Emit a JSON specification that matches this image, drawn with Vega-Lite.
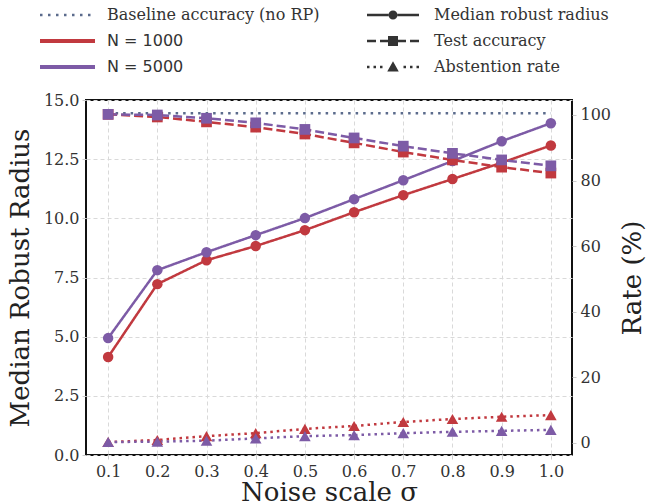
{
  "$schema": "https://vega.github.io/schema/vega-lite/v6.json",
  "width": 486,
  "height": 355,
  "autosize": "none",
  "padding": {"left": 86, "top": 100, "right": 74, "bottom": 49},
  "config": {
    "font": "DejaVu Serif",
    "view": {"stroke": "#111", "strokeWidth": 2},
    "axis": {
      "labelFont": "DejaVu Serif", "labelFontSize": 16, "labelColor": "#333",
      "titleFont": "DejaVu Serif", "titleFontSize": 26, "titleFontWeight": "normal", "titleColor": "#222",
      "domain": false, "tickColor": "#ccc", "tickSize": 4,
      "gridColor": "#d9d9d9", "gridDash": [4, 3], "gridWidth": 1
    }
  },
  "datasets": {
    "main": [
      {"sigma": 0.1, "series": "N = 1000", "metric": "Median robust radius", "value": 4.14},
      {"sigma": 0.2, "series": "N = 1000", "metric": "Median robust radius", "value": 7.22},
      {"sigma": 0.3, "series": "N = 1000", "metric": "Median robust radius", "value": 8.23},
      {"sigma": 0.4, "series": "N = 1000", "metric": "Median robust radius", "value": 8.83},
      {"sigma": 0.5, "series": "N = 1000", "metric": "Median robust radius", "value": 9.5},
      {"sigma": 0.6, "series": "N = 1000", "metric": "Median robust radius", "value": 10.26},
      {"sigma": 0.7, "series": "N = 1000", "metric": "Median robust radius", "value": 10.98},
      {"sigma": 0.8, "series": "N = 1000", "metric": "Median robust radius", "value": 11.66},
      {"sigma": 0.9, "series": "N = 1000", "metric": "Median robust radius", "value": 12.35},
      {"sigma": 1.0, "series": "N = 1000", "metric": "Median robust radius", "value": 13.08},
      {"sigma": 0.1, "series": "N = 1000", "metric": "Test accuracy", "value": 100.2},
      {"sigma": 0.2, "series": "N = 1000", "metric": "Test accuracy", "value": 99.4},
      {"sigma": 0.3, "series": "N = 1000", "metric": "Test accuracy", "value": 97.9},
      {"sigma": 0.4, "series": "N = 1000", "metric": "Test accuracy", "value": 96.3},
      {"sigma": 0.5, "series": "N = 1000", "metric": "Test accuracy", "value": 94.2},
      {"sigma": 0.6, "series": "N = 1000", "metric": "Test accuracy", "value": 91.5},
      {"sigma": 0.7, "series": "N = 1000", "metric": "Test accuracy", "value": 88.7},
      {"sigma": 0.8, "series": "N = 1000", "metric": "Test accuracy", "value": 86.3},
      {"sigma": 0.9, "series": "N = 1000", "metric": "Test accuracy", "value": 84.1},
      {"sigma": 1.0, "series": "N = 1000", "metric": "Test accuracy", "value": 82.3},
      {"sigma": 0.1, "series": "N = 1000", "metric": "Abstention rate", "value": 0.3},
      {"sigma": 0.2, "series": "N = 1000", "metric": "Abstention rate", "value": 0.9},
      {"sigma": 0.3, "series": "N = 1000", "metric": "Abstention rate", "value": 2.1},
      {"sigma": 0.4, "series": "N = 1000", "metric": "Abstention rate", "value": 3.0},
      {"sigma": 0.5, "series": "N = 1000", "metric": "Abstention rate", "value": 4.3},
      {"sigma": 0.6, "series": "N = 1000", "metric": "Abstention rate", "value": 5.2},
      {"sigma": 0.7, "series": "N = 1000", "metric": "Abstention rate", "value": 6.4},
      {"sigma": 0.8, "series": "N = 1000", "metric": "Abstention rate", "value": 7.3},
      {"sigma": 0.9, "series": "N = 1000", "metric": "Abstention rate", "value": 8.0},
      {"sigma": 1.0, "series": "N = 1000", "metric": "Abstention rate", "value": 8.5},
      {"sigma": 0.1, "series": "N = 5000", "metric": "Median robust radius", "value": 4.94},
      {"sigma": 0.2, "series": "N = 5000", "metric": "Median robust radius", "value": 7.81},
      {"sigma": 0.3, "series": "N = 5000", "metric": "Median robust radius", "value": 8.57},
      {"sigma": 0.4, "series": "N = 5000", "metric": "Median robust radius", "value": 9.29},
      {"sigma": 0.5, "series": "N = 5000", "metric": "Median robust radius", "value": 10.01},
      {"sigma": 0.6, "series": "N = 5000", "metric": "Median robust radius", "value": 10.81},
      {"sigma": 0.7, "series": "N = 5000", "metric": "Median robust radius", "value": 11.61},
      {"sigma": 0.8, "series": "N = 5000", "metric": "Median robust radius", "value": 12.42},
      {"sigma": 0.9, "series": "N = 5000", "metric": "Median robust radius", "value": 13.26},
      {"sigma": 1.0, "series": "N = 5000", "metric": "Median robust radius", "value": 14.02},
      {"sigma": 0.1, "series": "N = 5000", "metric": "Test accuracy", "value": 100.2},
      {"sigma": 0.2, "series": "N = 5000", "metric": "Test accuracy", "value": 100.0},
      {"sigma": 0.3, "series": "N = 5000", "metric": "Test accuracy", "value": 99.0},
      {"sigma": 0.4, "series": "N = 5000", "metric": "Test accuracy", "value": 97.6},
      {"sigma": 0.5, "series": "N = 5000", "metric": "Test accuracy", "value": 95.6},
      {"sigma": 0.6, "series": "N = 5000", "metric": "Test accuracy", "value": 93.0},
      {"sigma": 0.7, "series": "N = 5000", "metric": "Test accuracy", "value": 90.5},
      {"sigma": 0.8, "series": "N = 5000", "metric": "Test accuracy", "value": 88.3},
      {"sigma": 0.9, "series": "N = 5000", "metric": "Test accuracy", "value": 86.3},
      {"sigma": 1.0, "series": "N = 5000", "metric": "Test accuracy", "value": 84.5},
      {"sigma": 0.1, "series": "N = 5000", "metric": "Abstention rate", "value": 0.3},
      {"sigma": 0.2, "series": "N = 5000", "metric": "Abstention rate", "value": 0.4},
      {"sigma": 0.3, "series": "N = 5000", "metric": "Abstention rate", "value": 0.7},
      {"sigma": 0.4, "series": "N = 5000", "metric": "Abstention rate", "value": 1.4},
      {"sigma": 0.5, "series": "N = 5000", "metric": "Abstention rate", "value": 2.1},
      {"sigma": 0.6, "series": "N = 5000", "metric": "Abstention rate", "value": 2.4},
      {"sigma": 0.7, "series": "N = 5000", "metric": "Abstention rate", "value": 3.0},
      {"sigma": 0.8, "series": "N = 5000", "metric": "Abstention rate", "value": 3.4},
      {"sigma": 0.9, "series": "N = 5000", "metric": "Abstention rate", "value": 3.7},
      {"sigma": 1.0, "series": "N = 5000", "metric": "Abstention rate", "value": 4.0}
    ],
    "baseline": [
      {"series": "Baseline accuracy (no RP)", "value": 100.5, "start": 0.1, "end": 1.0}
    ]
  },
  "layer": [
    {
      "data": {"name": "main"},
      "transform": [{"filter": "datum.metric === 'Median robust radius'"}],
      "encoding": {
        "x": {
          "field": "sigma", "type": "quantitative",
          "scale": {"domain": [0.055, 1.043], "nice": false, "zero": false},
          "axis": {"values": [0.1, 0.2, 0.3, 0.4, 0.5, 0.6, 0.7, 0.8, 0.9, 1.0], "format": ".1f", "title": "Noise scale σ", "labelPadding": 4, "titlePadding": 0}
        },
        "y": {
          "field": "value", "type": "quantitative",
          "scale": {"domain": [0, 15], "nice": false, "zero": false},
          "axis": {"orient": "left", "values": [0, 2.5, 5, 7.5, 10, 12.5, 15], "format": ".1f", "title": "Median Robust Radius", "labelPadding": 3, "titlePadding": 10}
        },
        "color": {
          "field": "series", "type": "nominal",
          "scale": {"domain": ["Baseline accuracy (no RP)", "N = 1000", "N = 5000"], "range": ["#5b6b8c", "#c1393f", "#7d5ba6"]},
          "legend": {
            "title": null, "orient": "none", "legendX": -26.5, "legendY": -93,
            "symbolType": "M-5.5,0H5.5", "symbolSize": 100, "labelOffset": 31.5, "rowPadding": 10, "padding": 0,
            "labelFont": "DejaVu Serif", "labelFontSize": 16, "labelColor": "#333", "labelLimit": 0,
            "encode": {
              "symbols": {"update": {
                "stroke": {"scale": "color", "field": "value"},
                "fill": {"value": "transparent"},
                "opacity": {"value": 1},
                "strokeDash": {"signal": "datum.value === 'Baseline accuracy (no RP)' ? [2.5, 5.5] : [1, 0]"},
                "strokeWidth": {"signal": "datum.value === 'Baseline accuracy (no RP)' ? 2.5 : 4"}
              }},
              "labels": {"update": {
                "font": {"signal": "datum.value === 'Baseline accuracy (no RP)' ? 'DejaVu Serif' : 'DejaVu Sans'"}
              }}
            }
          }
        }
      },
      "layer": [
        {
          "mark": {"type": "line", "strokeWidth": 2.5},
          "encoding": {
            "strokeDash": {
              "field": "metric", "type": "nominal",
              "scale": {"domain": ["Median robust radius", "Test accuracy", "Abstention rate"], "range": [[1, 0], [9, 4], [2.5, 4]]},
              "legend": {
                "title": null, "orient": "none", "legendX": 299, "legendY": -93,
                "symbolSize": 100, "labelOffset": 33, "rowPadding": 10, "padding": 0,
                "labelFont": "DejaVu Serif", "labelFontSize": 16, "labelColor": "#333", "labelLimit": 0,
                "encode": {
                  "symbols": {"update": {
                    "shape": {"signal": "datum.value === 'Median robust radius' ? 'M-5.2,-0.25H-0.9V0.25H-5.2ZM0.9,-0.25H5.2V0.25H0.9ZM-0.9,0A0.9,0.9,0,1,0,0.9,0A0.9,0.9,0,1,0,-0.9,0Z' : datum.value === 'Test accuracy' ? 'M-5.2,-0.25H-3.4V0.25H-5.2ZM-2.6,-0.25H-1V0.25H-2.6ZM1,-0.25H2.6V0.25H1ZM3.4,-0.25H5.2V0.25H3.4ZM-1,-1H1V1H-1Z' : 'M-5.2,-0.25H-4.7V0.25H-5.2ZM-3.9,-0.25H-3.4V0.25H-3.9ZM-2.6,-0.25H-2.1V0.25H-2.6ZM2.1,-0.25H2.6V0.25H2.1ZM3.4,-0.25H3.9V0.25H3.4ZM4.7,-0.25H5.2V0.25H4.7ZM0,-1.15L1.15,0.9L-1.15,0.9Z'"},
                    "fill": {"value": "#333"},
                    "stroke": {"value": "transparent"},
                    "fillOpacity": {"value": 1},
                    "opacity": {"value": 1},
                    "strokeWidth": {"value": 0}
                  }}
                }
              }
            }
          }
        },
        {
          "mark": {"type": "point", "filled": true, "opacity": 1, "shape": "circle", "size": 110}
        }
      ]
    },
    {
      "encoding": {
        "x": {"field": "sigma", "type": "quantitative"},
        "y": {
          "field": "value", "type": "quantitative",
          "scale": {"domain": [-3.66, 104.57], "nice": false, "zero": false},
          "axis": {"orient": "right", "values": [0, 20, 40, 60, 80, 100], "grid": false, "title": "Rate (%)", "titleAngle": 270, "titleBaseline": "top", "labelPadding": 4, "titlePadding": 9}
        },
        "color": {"field": "series", "type": "nominal"}
      },
      "layer": [
        {
          "data": {"name": "baseline"},
          "mark": {"type": "rule", "strokeWidth": 2.5, "strokeDash": [2.5, 5]},
          "encoding": {
            "x": {"field": "start", "type": "quantitative"},
            "x2": {"field": "end"}
          }
        },
        {
          "data": {"name": "main"},
          "transform": [{"filter": "datum.metric !== 'Median robust radius'"}],
          "mark": {"type": "line", "strokeWidth": 2.5},
          "encoding": {
            "strokeDash": {"field": "metric", "type": "nominal"}
          }
        },
        {
          "data": {"name": "main"},
          "transform": [{"filter": "datum.metric === 'Test accuracy'"}],
          "mark": {"type": "point", "filled": true, "opacity": 1, "shape": "square", "size": 115}
        },
        {
          "data": {"name": "main"},
          "transform": [{"filter": "datum.metric === 'Abstention rate'"}],
          "mark": {"type": "point", "filled": true, "opacity": 1, "shape": "triangle-up", "size": 135}
        }
      ]
    }
  ],
  "resolve": {"scale": {"y": "independent"}}
}
